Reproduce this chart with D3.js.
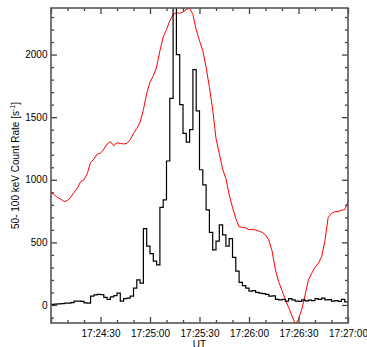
<!DOCTYPE html>
<html>
<head>
<meta charset="utf-8">
<script src="https://cdn.jsdelivr.net/npm/d3@7"></script>
<style>
  body { margin: 0; background: #fff; }
  text { font-family: "Liberation Sans", Arial, sans-serif; font-size: 10px; fill: #000; }
</style>
</head>
<body>
<svg id="chart" width="367" height="347"></svg>
<script>
// seconds after 17:24:00 UT, 2 s bins
const binStep = 2;
const hxrCounts = [5, 6, 8, 10, 14, 15, 18, 30, 30, 28, 16, 15,
    70, 80, 85, 82, 60, 45, 65, 75, 95, 30, 50, 55, 70, 135, 200, 175,
    610, 470, 410, 350, 320, 780, 840, 1150, 1650, 2450, 2000, 1600, 1370, 1300, 1400, 1880,
    1550, 1080, 960, 760, 580, 440, 510, 640, 560, 470, 530, 380, 270, 180, 155, 135,
    110, 115, 100, 95, 90, 85, 70, 72, 45, 40, 45, 30, 50, 40, 30, 28,
    40, 32, 38, 35, 50, 45, 55, 40, 42, 30, 35, 28, 45, 25];

// red curve, sampled every 2 s (arbitrary units on the same axis)
const redCurve = [900, 880, 858, 845, 825, 835, 862, 900, 935, 985, 1000, 1050,
    1140, 1165, 1205, 1212, 1245, 1285, 1305, 1272, 1296, 1290, 1286, 1290, 1320, 1370, 1410, 1460,
    1560, 1690, 1780, 1830, 1900, 2030, 2140, 2200, 2270, 2320, 2335, 2330, 2340, 2360, 2370, 2320,
    2200, 2110, 2030, 1900, 1740, 1560, 1330, 1210, 1085, 1010, 880, 780, 690, 625, 620, 615,
    600, 605, 598, 590, 580, 560, 520, 430, 280, 185, 115, 45, -20, -85, -150, -115,
    -35, 80, 200, 253, 300, 333, 385, 510, 700, 732, 745, 745, 758, 760, 825];

const yMajor = [0, 500, 1000, 1500, 2000];
const yMinor = d3.range(-100, 2301, 100).filter(v => v % 500 !== 0);
const xMajorSec = [0, 30, 60, 90, 120, 150, 180];
const xMinorSec = d3.range(0, 181, 10).filter(v => v % 30 !== 0);

const t0 = Date.UTC(2000, 0, 1, 17, 24, 0);
const toDate = s => new Date(t0 + s * 1000);

let svg = d3.select("#chart");
const margin = {left: 51, right: 19, top: 8, bottom: 24};
const width = 367 - margin.left - margin.right;
const height = 347 - margin.top - margin.bottom;

let g = svg.append("g").attr("transform", `translate(${margin.left},${margin.top})`);

let x = d3.scaleUtc().domain([toDate(0), toDate(180)]).range([0, width]);
let y = d3.scaleLinear().domain([-144, 2372]).range([height, 0]);

g.append("clipPath").attr("id", "clip")
    .append("rect").attr("width", width).attr("height", height);

// red line
let redLine = d3.line()
    .x((d, i) => x(toDate(i * binStep)))
    .y(d => y(d));

g.append("path")
    .datum(redCurve)
    .attr("clip-path", "url(#clip)")
    .attr("fill", "none")
    .attr("stroke", "#ff0000")
    .attr("stroke-width", 1)
    .attr("d", redLine);

// black histogram
let histData = hxrCounts.map((v, i) => [i * binStep, v]);
histData.push([180, hxrCounts[hxrCounts.length - 1]]);
let stepLine = d3.line()
    .curve(d3.curveStepAfter)
    .x(d => x(toDate(d[0])))
    .y(d => y(d[1]));

g.append("path")
    .datum(histData)
    .attr("clip-path", "url(#clip)")
    .attr("fill", "none")
    .attr("stroke", "#000")
    .attr("stroke-width", 1.2)
    .attr("d", stepLine);

// axes (ticks pointing inwards on all four sides)
const fmt = d3.utcFormat("%H:%M:%S");
function styleAxis(sel) {
    sel.select(".domain").remove();
    sel.selectAll("line").attr("stroke", "#444").attr("stroke-width", 1.3);
}

g.append("g").attr("transform", `translate(0,${height})`)
    .call(d3.axisBottom(x).tickValues(xMajorSec.map(toDate))
        .tickFormat(d => +d === t0 ? "" : fmt(d)).tickSizeInner(-6).tickPadding(7))
    .call(styleAxis)
    .selectAll("text").style("font-size", "10px").attr("font-family", null);
g.append("g").attr("transform", `translate(0,${height})`)
    .call(d3.axisBottom(x).tickValues(xMinorSec.map(toDate)).tickFormat("").tickSizeInner(-3))
    .call(styleAxis);
g.append("g")
    .call(d3.axisTop(x).tickValues(xMajorSec.map(toDate)).tickFormat("").tickSizeInner(-6))
    .call(styleAxis);
g.append("g")
    .call(d3.axisTop(x).tickValues(xMinorSec.map(toDate)).tickFormat("").tickSizeInner(-3))
    .call(styleAxis);

g.append("g")
    .call(d3.axisLeft(y).tickValues(yMajor).tickFormat(d3.format("d")).tickSizeInner(-6).tickPadding(3.5))
    .call(styleAxis)
    .selectAll("text").style("font-size", "10px");
g.append("g")
    .call(d3.axisLeft(y).tickValues(yMinor).tickFormat("").tickSizeInner(-3))
    .call(styleAxis);
g.append("g").attr("transform", `translate(${width},0)`)
    .call(d3.axisRight(y).tickValues(yMajor).tickFormat("").tickSizeInner(-6))
    .call(styleAxis);
g.append("g").attr("transform", `translate(${width},0)`)
    .call(d3.axisRight(y).tickValues(yMinor).tickFormat("").tickSizeInner(-3))
    .call(styleAxis);

svg.selectAll(".tick text").attr("font-family", "Liberation Sans, Arial, sans-serif").attr("fill", "#000");

// frame
g.append("rect")
    .attr("width", width)
    .attr("height", height)
    .attr("fill", "none")
    .attr("stroke", "#555")
    .attr("stroke-width", 1.6);

// axis titles
svg.append("text")
    .attr("x", margin.left + width / 2)
    .attr("y", 348)
    .attr("text-anchor", "middle")
    .text("UT");

let yTitle = svg.append("text")
    .attr("transform", `translate(19,${margin.top + height / 2}) rotate(-90)`)
    .attr("text-anchor", "middle");
yTitle.append("tspan").text("50- 100 keV Count Rate [s");
yTitle.append("tspan").attr("dy", -4).style("font-size", "7px").text("-1");
yTitle.append("tspan").attr("dy", 4).text("]");
</script>
</body>
</html>
